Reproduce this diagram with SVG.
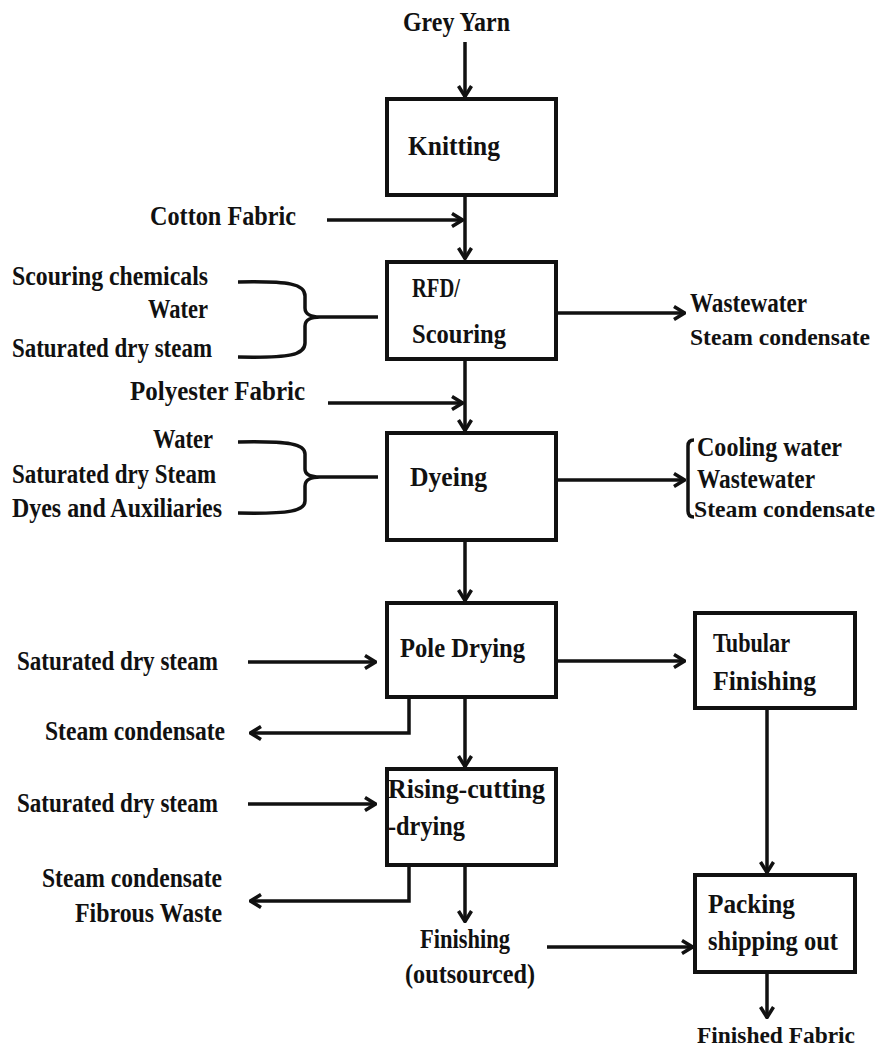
<svg xmlns="http://www.w3.org/2000/svg" width="885" height="1046" viewBox="0 0 885 1046">
<style>
  text { font-family: "Liberation Serif", "Times New Roman", serif; font-weight: bold; font-size: 27px; fill: #111; }
  .big { font-size: 28px; }
  .edge { font-size: 24px; }
  .box { fill: #fff; stroke: #111; stroke-width: 4; }
  .ln { fill: none; stroke: #111; stroke-width: 3.5; }
</style>
<defs>
  <marker id="ah" viewBox="0 0 13 16" refX="12" refY="8" markerWidth="13" markerHeight="16" markerUnits="userSpaceOnUse" orient="auto">
    <path d="M1,1.5 L11.5,8 L1,14.5" fill="none" stroke="#111" stroke-width="3.5" stroke-linejoin="miter"/>
  </marker>
</defs>
<rect width="885" height="1046" fill="#fff"/>

<g id="connectors">
  <path class="ln" d="M465,42 L465,97" marker-end="url(#ah)"/>
  <path class="ln" d="M465,197 L465,259" marker-end="url(#ah)"/>
  <path class="ln" d="M327,220 L463,220" marker-end="url(#ah)"/>
  <path class="ln" d="M238,282 C290,281 305,284 305,296 L305,308 C305,314 311,317 320,317 L378,317 M238,357 C290,358 305,355 305,343 L305,326 C305,320 311,317 320,317" stroke-width="4"/>
  <path class="ln" d="M557,313 L685,313" marker-end="url(#ah)"/>
  <path class="ln" d="M328,403 L463,403" marker-end="url(#ah)"/>
  <path class="ln" d="M465,360 L465,431" marker-end="url(#ah)"/>
  <path class="ln" d="M238,442 C290,441 305,444 305,454 L305,469 C305,475 311,477 320,477 L378,477 M238,513 C290,514 305,511 305,501 L305,486 C305,480 311,477 320,477" stroke-width="4"/>
  <path class="ln" d="M557,480 L685,480" marker-end="url(#ah)"/>
  <path class="ln" d="M694,440 Q688,440 688,446 L688,511 Q688,517 694,517" stroke-width="2"/>
  <path class="ln" d="M465,541 L465,601" marker-end="url(#ah)"/>
  <path class="ln" d="M248,662 L376,662" marker-end="url(#ah)"/>
  <path class="ln" d="M409,698 L409,733 L250,733" marker-end="url(#ah)"/>
  <path class="ln" d="M465,698 L465,767" marker-end="url(#ah)"/>
  <path class="ln" d="M557,661 L685,661" marker-end="url(#ah)"/>
  <path class="ln" d="M767,709 L767,873" marker-end="url(#ah)"/>
  <path class="ln" d="M248,804 L376,804" marker-end="url(#ah)"/>
  <path class="ln" d="M409,866 L409,901 L250,901" marker-end="url(#ah)"/>
  <path class="ln" d="M465,866 L465,922" marker-end="url(#ah)"/>
  <path class="ln" d="M547,947 L693,947" marker-end="url(#ah)"/>
  <path class="ln" d="M767,973 L767,1018" marker-end="url(#ah)"/>
</g>

<g id="n-greyyarn"><text x="403" y="31" textLength="107" lengthAdjust="spacingAndGlyphs">Grey Yarn</text></g>
<g id="n-knitting">
  <rect class="box" x="387" y="99" width="169" height="96"/>
  <text class="big" x="408" y="155" textLength="92" lengthAdjust="spacingAndGlyphs">Knitting</text>
</g>
<g id="n-cotton"><text x="150" y="225" textLength="146" lengthAdjust="spacingAndGlyphs">Cotton Fabric</text></g>
<g id="n-inputs1">
  <text x="12" y="285" textLength="196" lengthAdjust="spacingAndGlyphs">Scouring chemicals</text>
  <text x="148" y="318" textLength="60" lengthAdjust="spacingAndGlyphs">Water</text>
  <text x="12" y="357" textLength="200" lengthAdjust="spacingAndGlyphs">Saturated dry steam</text>
</g>
<g id="n-rfd">
  <rect class="box" x="387" y="262" width="169" height="97"/>
  <text class="big" x="412" y="297" textLength="48" lengthAdjust="spacingAndGlyphs">RFD/</text>
  <text class="big" x="412" y="343" textLength="94" lengthAdjust="spacingAndGlyphs">Scouring</text>
</g>
<g id="n-out1">
  <text x="690" y="312" textLength="117" lengthAdjust="spacingAndGlyphs">Wastewater</text>
  <text class="edge" x="690" y="345" textLength="180" lengthAdjust="spacingAndGlyphs">Steam condensate</text>
</g>
<g id="n-polyester"><text x="130" y="400" textLength="175" lengthAdjust="spacingAndGlyphs">Polyester Fabric</text></g>
<g id="n-inputs2">
  <text x="153" y="448" textLength="60" lengthAdjust="spacingAndGlyphs">Water</text>
  <text x="12" y="483" textLength="204" lengthAdjust="spacingAndGlyphs">Saturated dry Steam</text>
  <text x="12" y="517" textLength="210" lengthAdjust="spacingAndGlyphs">Dyes and Auxiliaries</text>
</g>
<g id="n-dyeing">
  <rect class="box" x="387" y="433" width="169" height="107"/>
  <text class="big" x="410" y="486" textLength="77" lengthAdjust="spacingAndGlyphs">Dyeing</text>
</g>
<g id="n-out2">
  <text x="697" y="456" textLength="145" lengthAdjust="spacingAndGlyphs">Cooling water</text>
  <text x="697" y="488" textLength="118" lengthAdjust="spacingAndGlyphs">Wastewater</text>
  <text class="edge" x="694" y="517" textLength="181" lengthAdjust="spacingAndGlyphs">Steam condensate</text>
</g>
<g id="n-steam3"><text x="17" y="670" textLength="201" lengthAdjust="spacingAndGlyphs">Saturated dry steam</text></g>
<g id="n-pole">
  <rect class="box" x="387" y="603" width="169" height="94"/>
  <text class="big" x="400" y="657" textLength="125" lengthAdjust="spacingAndGlyphs">Pole Drying</text>
</g>
<g id="n-cond3"><text x="45" y="740" textLength="180" lengthAdjust="spacingAndGlyphs">Steam condensate</text></g>
<g id="n-tubular">
  <rect class="box" x="695" y="613" width="160" height="95"/>
  <text class="big" x="713" y="652" textLength="77" lengthAdjust="spacingAndGlyphs">Tubular</text>
  <text class="big" x="713" y="690" textLength="103" lengthAdjust="spacingAndGlyphs">Finishing</text>
</g>
<g id="n-steam4"><text x="17" y="812" textLength="201" lengthAdjust="spacingAndGlyphs">Saturated dry steam</text></g>
<g id="n-rising">
  <rect class="box" x="387" y="769" width="169" height="96"/>
  <text class="big" x="388" y="798" textLength="157" lengthAdjust="spacingAndGlyphs">Rising-cutting</text>
  <text class="big" x="388" y="835" textLength="77" lengthAdjust="spacingAndGlyphs">-drying</text>
</g>
<g id="n-cond4">
  <text x="42" y="887" textLength="180" lengthAdjust="spacingAndGlyphs">Steam condensate</text>
  <text x="75" y="922" textLength="147" lengthAdjust="spacingAndGlyphs">Fibrous Waste</text>
</g>
<g id="n-finishing">
  <text x="420" y="948" textLength="90" lengthAdjust="spacingAndGlyphs">Finishing</text>
  <text x="405" y="983" textLength="130" lengthAdjust="spacingAndGlyphs">(outsourced)</text>
</g>
<g id="n-packing">
  <rect class="box" x="695" y="875" width="160" height="97"/>
  <text class="big" x="708" y="913" textLength="87" lengthAdjust="spacingAndGlyphs">Packing</text>
  <text class="big" x="708" y="950" textLength="130" lengthAdjust="spacingAndGlyphs">shipping out</text>
</g>
<g id="n-finished"><text class="edge" x="697" y="1043" textLength="158" lengthAdjust="spacingAndGlyphs">Finished Fabric</text></g>
</svg>
